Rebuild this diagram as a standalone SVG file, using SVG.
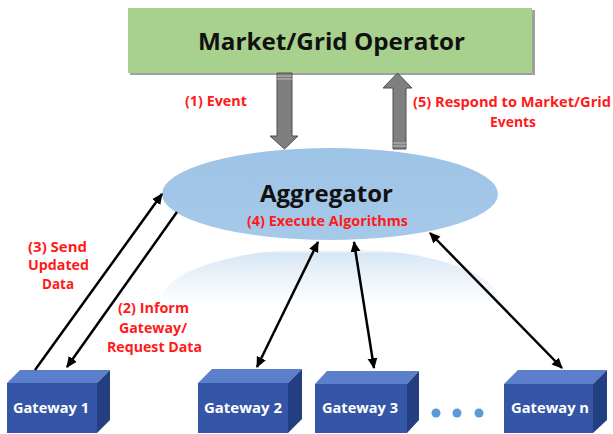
<svg xmlns="http://www.w3.org/2000/svg" width="613" height="434" viewBox="0 0 613 434">
<defs>
<style>
.lbl{font-family:"Open Sans","Liberation Sans",sans-serif;font-weight:bold;fill:#FF1A1A;font-size:14px;}
.gw{font-family:"Open Sans","Liberation Sans",sans-serif;font-weight:bold;fill:#FFFFFF;font-size:14px;}
.ttl{font-family:"Open Sans","Liberation Sans",sans-serif;font-weight:bold;fill:#111111;}
.front{fill:#3556A6;}
.top{fill:#5B7FCB;}
.side{fill:#233F82;}
.conn{stroke:#000;stroke-width:2.5;fill:none;}
.garrow{fill:#7F7F7F;stroke:#4F4F4F;stroke-width:1;}
</style>
<marker id="ah" viewBox="0 0 10 10" refX="9" refY="5" markerWidth="4.4" markerHeight="4.4" orient="auto-start-reverse" markerUnits="strokeWidth">
<path d="M0,0.5 L10,5 L0,9.5 z" fill="#000"/>
</marker>
<linearGradient id="ell" x1="0" y1="0" x2="0" y2="1">
<stop offset="0" stop-color="#9DC3E6"/>
<stop offset="1" stop-color="#A6C9E8"/>
</linearGradient>
<linearGradient id="refl" x1="0" y1="0" x2="0" y2="1">
<stop offset="0" stop-color="#FFFFFF" stop-opacity="0"/>
<stop offset="0.05" stop-color="#D2E3F3" stop-opacity="0.9"/>
<stop offset="0.45" stop-color="#F2F7FC" stop-opacity="0.6"/>
<stop offset="0.6" stop-color="#FFFFFF" stop-opacity="0"/>
</linearGradient>
</defs>
<rect width="613" height="434" fill="#FFFFFF"/>

<g id="market-grid-operator">
<rect x="130" y="10" width="405" height="65" fill="#A0A0A0"/>
<rect x="128" y="8" width="404" height="65" fill="#A9D18E"/>
<text class="ttl" x="331.5" y="50" font-size="24" text-anchor="middle" textLength="267" lengthAdjust="spacingAndGlyphs">Market/Grid Operator</text>
</g>

<g id="aggregator">
<ellipse cx="330" cy="300" rx="168" ry="52" fill="url(#refl)"/>
<ellipse cx="330" cy="194" rx="168" ry="46" fill="url(#ell)"/>
<text class="ttl" x="326.5" y="202" font-size="24" text-anchor="middle" textLength="133" lengthAdjust="spacingAndGlyphs">Aggregator</text>
<text class="lbl" x="327.5" y="226" text-anchor="middle" textLength="161" lengthAdjust="spacingAndGlyphs">(4) Execute Algorithms</text>
</g>

<g id="gateway-1">
<polygon class="top" points="7,383 20,370 110,370 97,383"/>
<polygon class="side" points="97,383 110,370 110,420 97,433"/>
<rect class="front" x="7" y="383" width="90" height="50"/>
<text class="gw" x="51" y="413" text-anchor="middle" textLength="76" lengthAdjust="spacingAndGlyphs">Gateway 1</text>
</g>
<g id="gateway-2">
<polygon class="top" points="198,383 212,369 302,369 288,383"/>
<polygon class="side" points="288,383 302,369 302,419 288,433"/>
<rect class="front" x="198" y="383" width="90" height="50"/>
<text class="gw" x="243" y="413" text-anchor="middle" textLength="78" lengthAdjust="spacingAndGlyphs">Gateway 2</text>
</g>
<g id="gateway-3">
<polygon class="top" points="315,384 327,371 419,371 407,384"/>
<polygon class="side" points="407,384 419,371 419,420 407,433"/>
<rect class="front" x="315" y="384" width="92" height="49"/>
<text class="gw" x="360" y="413" text-anchor="middle" textLength="76" lengthAdjust="spacingAndGlyphs">Gateway 3</text>
</g>
<g id="gateway-n">
<polygon class="top" points="504,384 518,370 607,370 593,384"/>
<polygon class="side" points="593,384 607,370 607,420 593,433"/>
<rect class="front" x="504" y="384" width="89" height="49"/>
<text class="gw" x="550" y="413" text-anchor="middle" textLength="78" lengthAdjust="spacingAndGlyphs">Gateway n</text>
</g>

<g id="ellipsis">
<circle cx="436" cy="413" r="4.5" fill="#5B9BD5"/>
<circle cx="457" cy="413" r="4.5" fill="#5B9BD5"/>
<circle cx="479" cy="413" r="4.5" fill="#5B9BD5"/>
</g>

<g id="connectors">
<polygon class="garrow" points="277,73 292,73 292,136 298,136 284.5,149 270,136 277,136"/>
<line x1="277" y1="76" x2="292" y2="76" stroke="#BFBFBF" stroke-width="1"/>
<line x1="277" y1="79" x2="292" y2="79" stroke="#BFBFBF" stroke-width="1"/>
<polygon class="garrow" points="397.5,73 412,88 406,88 406,149 393,149 393,88 383,88"/>
<line x1="393" y1="146" x2="406" y2="146" stroke="#BFBFBF" stroke-width="1"/>
<line x1="393" y1="143" x2="406" y2="143" stroke="#BFBFBF" stroke-width="1"/>

<line class="conn" x1="35" y1="370" x2="162" y2="194" marker-end="url(#ah)"/>
<line class="conn" x1="177" y1="212" x2="67" y2="367" marker-end="url(#ah)"/>
<line class="conn" x1="257" y1="367" x2="318" y2="242" marker-start="url(#ah)" marker-end="url(#ah)"/>
<line class="conn" x1="374" y1="368" x2="354" y2="242" marker-start="url(#ah)" marker-end="url(#ah)"/>
<line class="conn" x1="562" y1="368" x2="430" y2="233" marker-start="url(#ah)" marker-end="url(#ah)"/>

<text class="lbl" x="216" y="106" text-anchor="middle" textLength="62" lengthAdjust="spacingAndGlyphs">(1) Event</text>
<text class="lbl" x="512" y="107" text-anchor="middle" textLength="198" lengthAdjust="spacingAndGlyphs">(5) Respond to Market/Grid</text>
<text class="lbl" x="513" y="127" text-anchor="middle" textLength="46" lengthAdjust="spacingAndGlyphs">Events</text>
<text class="lbl" x="57.5" y="252" text-anchor="middle" textLength="59" lengthAdjust="spacingAndGlyphs">(3) Send</text>
<text class="lbl" x="58.5" y="270" text-anchor="middle" textLength="61" lengthAdjust="spacingAndGlyphs">Updated</text>
<text class="lbl" x="58" y="289" text-anchor="middle" textLength="32" lengthAdjust="spacingAndGlyphs">Data</text>
<text class="lbl" x="153.5" y="313" text-anchor="middle" textLength="71" lengthAdjust="spacingAndGlyphs">(2) Inform</text>
<text class="lbl" x="153" y="333" text-anchor="middle" textLength="68" lengthAdjust="spacingAndGlyphs">Gateway/</text>
<text class="lbl" x="154.5" y="352" text-anchor="middle" textLength="95" lengthAdjust="spacingAndGlyphs">Request Data</text>
</g>
</svg>
